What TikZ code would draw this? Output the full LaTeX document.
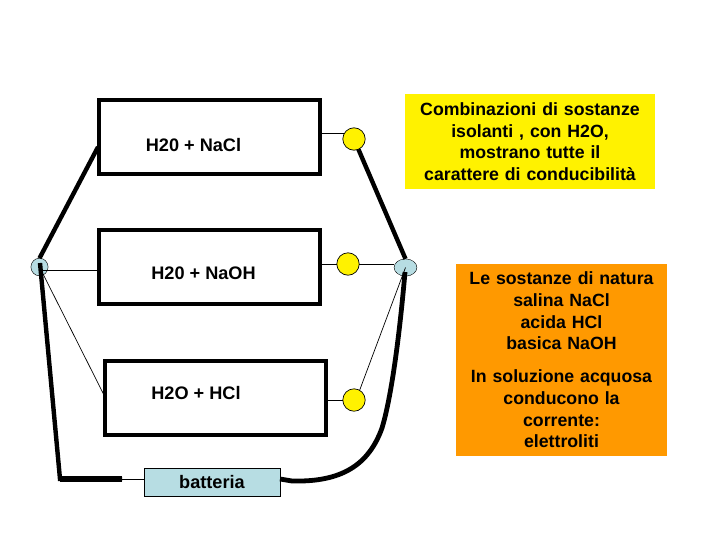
\documentclass[tikz,border=0pt]{standalone}
\usepackage{fontspec}
\setmainfont{Liberation Sans}
\usetikzlibrary{shapes.geometric,calc}

\begin{document}
\begin{tikzpicture}[
			x=0.025cm, y=-0.025cm,
			cella/.style={draw, rectangle, line width=0.1cm, outer sep=0pt, minimum width=5.525cm, minimum height=1.85cm},
			etichetta/.style={font=\fontsize{12.9}{14}\selectfont\bfseries, inner sep=0pt},
			lampada/.style={draw, circle, fill=yellow, minimum size=0.56cm, inner sep=0pt, outer sep=0pt, line width=0.5pt},
			morsetto/.style={draw, ellipse, fill=morsettoblu, inner sep=0pt, outer sep=0pt, line width=0.3pt},
			nota/.style={rectangle, inner sep=0pt, align=center, font=\fontsize{12.6}{15.4}\selectfont\bfseries},
			filo/.style={line width=0.5pt},
			cavo/.style={line width=0.11cm}
			]
			\definecolor{morsettoblu}{HTML}{B7DDE3}
			\definecolor{notaarancio}{HTML}{FF9900}
			\useasboundingbox (0,0) rectangle (720,540);
			
			% Celle
			\node[cella] (C1) at (209.5,137) {};
			\node[cella] (C2) at (209.5,267) {};
			\node[cella] (C3) at (215.5,398) {};
			\node[etichetta] (T1) at (193.5,145) {H20 + NaCl};
			\node[etichetta] (T2) at (203.5,273) {H20 + NaOH};
			\node[etichetta] (T3) at (196,393) {H2O + HCl};
			
			% Lampade
			\node[lampada] (L1) at (354,139) {};
			\node[lampada] (L2) at (348,264) {};
			\node[lampada] (L3) at (354,400) {};
			
			% Morsetti
			\node[morsetto, minimum width=0.43cm, minimum height=0.44cm] (MS) at (39.5,267) {};
			\node[morsetto, minimum width=0.57cm, minimum height=0.43cm] (MD) at (405.5,267.5) {};
			
			% Batteria
			\node[draw, rectangle, fill=morsettoblu, line width=0.5pt, minimum width=3.4cm, minimum height=0.7cm, outer sep=0pt, inner sep=0pt, font=\fontsize{12.9}{14}\selectfont\bfseries] (B) at (212,482) {batteria};
			
			% Note
			\node[nota, fill=yellow, minimum width=6.25cm, minimum height=2.375cm, text width=6.1cm] (N1) at (530,141.5) {Combinazioni di sostanze\\ isolanti , con H2O,\\ mostrano tutte il\\ carattere di conducibilità};
			\node[nota, fill=notaarancio, minimum width=5.275cm, minimum height=4.8cm, text width=5.1cm] (N2) at (561.5,360) {Le sostanze di natura\\ salina NaCl\\ acida HCl\\ basica NaOH\\[8pt] In soluzione acquosa\\ conducono la\\ corrente:\\ elettroliti};
			
			% Punti liberi
			\coordinate (E1) at (98,147);
			\coordinate (U1) at (320,133.4);
			\coordinate (U2) at (320,264);
			\coordinate (E3) at (104,395);
			\coordinate (U3) at (326,400);
			\coordinate (E2) at (98,270);
			\coordinate (A) at (60,479);
			\coordinate (A1) at (122,479);
			\coordinate (A2) at (144,479);
			\coordinate (R1) at (280,479);
			\coordinate (R2) at (292,481);
			\coordinate (MS1) at (40,263);
			\coordinate (MD1) at (405,272);
			
			% Fili sottili
			\draw[filo] (U1) -- (L1.150);
			\draw[filo] (U2) -- (L2);
			\draw[filo] (U3) -- (L3);
			\draw[filo] (L2) -- (L2-|MD.west);
			\draw[filo] (L3.60) -- (MD.center);
			\draw[filo] (E2-|MS.center) -- (E2);
			\draw[filo] (MS.center) -- (E3);
			\draw[filo] (A1) -- (A2);
			
			% Cavi spessi
			\draw[cavo] (MS.north) -- (E1);
			\draw[cavo] (L1) -- (MD.north);
			\draw[cavo, line join=miter] (MS1) -- (A) -- (A1);
			\draw[cavo, line width=0.16cm] (A) -- (A1);
			\draw[cavo, line width=0.12cm] (R1) -- (R2) .. controls (335,482) and (367,470) .. (382,428) .. controls (392,395) and (400,330) .. (MD1);
			
		\end{tikzpicture}
\end{document}
